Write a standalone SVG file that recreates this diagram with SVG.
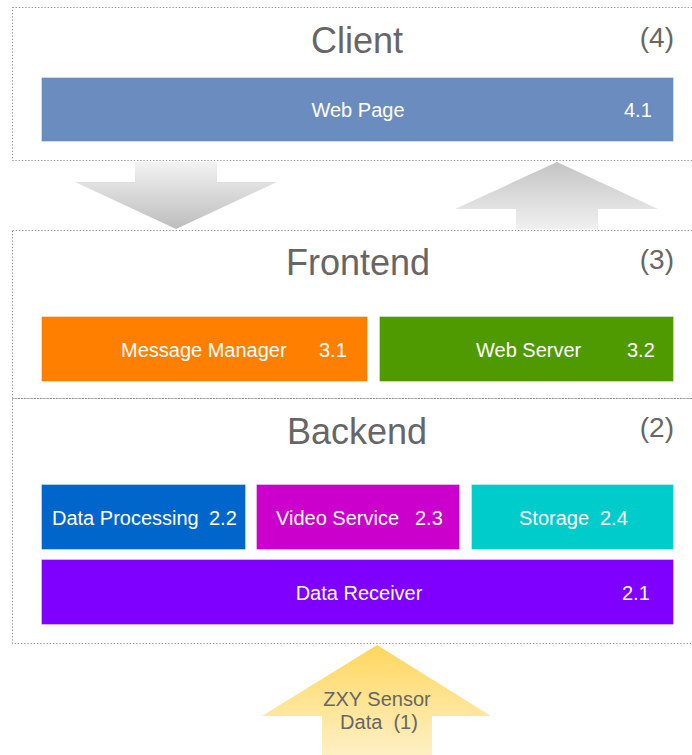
<svg xmlns="http://www.w3.org/2000/svg" width="692" height="755" viewBox="0 0 692 755">
<style>
.box{fill:none;stroke:#8a8a8a;stroke-width:1;stroke-dasharray:1.2 2}
.title{font-family:"Liberation Sans",Arial,sans-serif;font-size:36px;fill:#666;text-anchor:middle}
.num{font-family:"Liberation Sans",Arial,sans-serif;font-size:28px;fill:#666;text-anchor:end}
.lbl{font-family:"Liberation Sans",Arial,sans-serif;font-size:20px;fill:#fff}
.ctr{text-anchor:middle}
.node{stroke:#ffffff;stroke-opacity:0.35;stroke-width:1}
.arrowtxt{font-family:"Liberation Sans",Arial,sans-serif;font-size:20px;fill:#666;text-anchor:middle}
</style>
<defs>
<linearGradient id="gDown" x1="0" y1="162" x2="0" y2="229" gradientUnits="userSpaceOnUse">
<stop offset="0" stop-color="#f2f2f2"/><stop offset="1" stop-color="#bdbdbd"/>
</linearGradient>
<linearGradient id="gUp" x1="0" y1="162" x2="0" y2="229" gradientUnits="userSpaceOnUse">
<stop offset="0" stop-color="#c4c4c4"/><stop offset="1" stop-color="#f0f0f0"/>
</linearGradient>
<linearGradient id="gYel" x1="0" y1="645" x2="0" y2="755" gradientUnits="userSpaceOnUse">
<stop offset="0" stop-color="#ffd75e"/><stop offset="1" stop-color="#fff0c4"/>
</linearGradient>
</defs>

<g id="client">
<rect class="box" x="12.5" y="7.5" width="700" height="153"/>
<text class="title" x="357" y="53">Client</text>
<text class="num" x="674" y="47">(4)</text>
</g>
<g id="frontend">
<rect class="box" x="12.5" y="230.5" width="700" height="168"/>
<text class="title" x="358" y="275">Frontend</text>
<text class="num" x="674" y="269">(3)</text>
</g>
<g id="backend">
<rect class="box" x="12.5" y="398.5" width="700" height="245"/>
<text class="title" x="357" y="444">Backend</text>
<text class="num" x="674" y="437">(2)</text>
</g>

<g id="web-page">
<rect class="node" x="41.5" y="77.5" width="632" height="64" fill="#6b8cbe"/>
<text class="lbl ctr" x="358" y="117">Web Page</text>
<text class="lbl" x="624" y="117">4.1</text>
</g>
<g id="message-manager">
<rect class="node" x="41.5" y="316.5" width="326" height="65" fill="#ff8000"/>
<text class="lbl" x="121" y="357">Message Manager</text>
<text class="lbl" x="319" y="357">3.1</text>
</g>
<g id="web-server">
<rect class="node" x="379.5" y="316.5" width="294" height="65" fill="#4f9a00"/>
<text class="lbl" x="476" y="357">Web Server</text>
<text class="lbl" x="627" y="357">3.2</text>
</g>
<g id="data-processing">
<rect class="node" x="41.5" y="484.5" width="204" height="65" fill="#0066cc"/>
<text class="lbl" x="52" y="525">Data Processing</text>
<text class="lbl" x="209" y="525">2.2</text>
</g>
<g id="video-service">
<rect class="node" x="256.5" y="484.5" width="203" height="65" fill="#cc00cc"/>
<text class="lbl" x="276" y="525">Video Service</text>
<text class="lbl" x="415" y="525">2.3</text>
</g>
<g id="storage">
<rect class="node" x="471.5" y="484.5" width="202" height="65" fill="#00cccc"/>
<text class="lbl" x="519" y="525">Storage</text>
<text class="lbl" x="600" y="525">2.4</text>
</g>
<g id="data-receiver">
<rect class="node" x="41.5" y="559.5" width="632" height="65" fill="#8000ff"/>
<text class="lbl ctr" x="359" y="600">Data Receiver</text>
<text class="lbl" x="622" y="600">2.1</text>
</g>

<g id="connectors">
<polygon points="135,162 217,162 217,182 277,182 176,229 75,182 135,182" fill="url(#gDown)"/>
<polygon points="557,162 658,209 598,209 598,229 516,229 516,209 455,209" fill="url(#gUp)"/>
<g id="sensor-data">
<polygon points="377,645 491,716 432,716 432,755 322,755 322,716 262,716" fill="url(#gYel)"/>
<text class="arrowtxt" x="377" y="706">ZXY Sensor</text>
<text class="arrowtxt" x="379" y="729" xml:space="preserve">Data  (1)</text>
</g>
</g>
</svg>
